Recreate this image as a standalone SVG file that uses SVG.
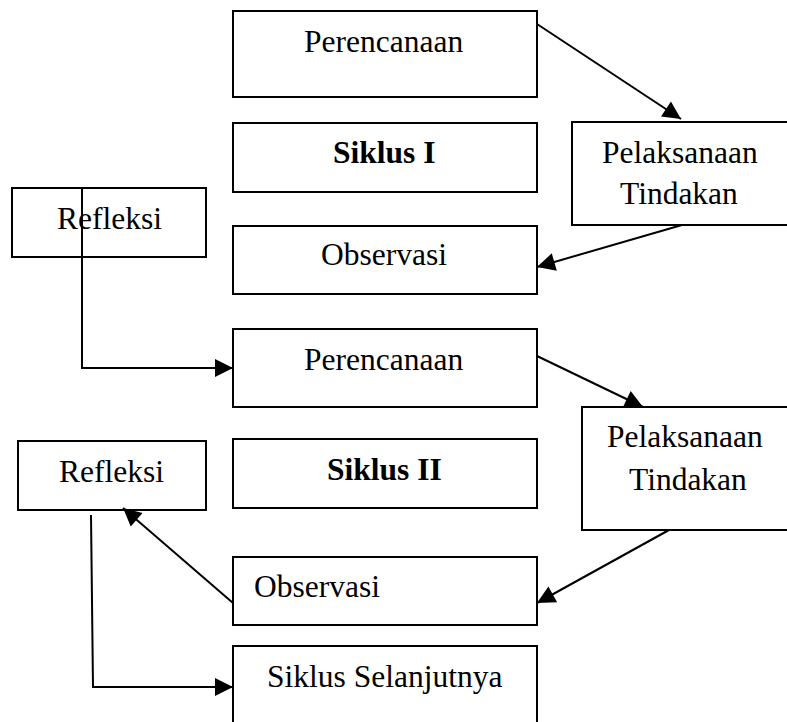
<svg xmlns="http://www.w3.org/2000/svg" width="787" height="722" viewBox="0 0 787 722">
<style>
.box{fill:#fff;stroke:#000;stroke-width:2}
.t{font-family:"Liberation Serif","Times New Roman",serif;font-size:31.5px;fill:#000}
.b{font-weight:bold}
.c{fill:none;stroke:#000;stroke-width:2}
</style>
<defs>
<marker id="ah" markerUnits="userSpaceOnUse" markerWidth="19" markerHeight="18" refX="18" refY="9" orient="auto" overflow="visible">
<path d="M0,0 L18,9 L0,18 z" fill="#000"/>
</marker>
</defs>
<rect width="787" height="722" fill="#fff"/>
<g id="perencanaan1"><rect class="box" x="233" y="11" width="304" height="86"/><text class="t" x="304" y="52">Perencanaan</text></g>
<g id="siklus1"><rect class="box" x="233" y="123" width="304" height="69"/><text class="t b" x="333" y="163">Siklus I</text></g>
<g id="pelaksanaan1"><rect class="box" x="572" y="122" width="222" height="103"/><text class="t" x="602" y="163">Pelaksanaan</text><text class="t" x="620" y="204">Tindakan</text></g>
<g id="refleksi1"><rect class="box" x="12" y="188" width="194" height="69"/><text class="t" x="57" y="229">Refleksi</text></g>
<g id="observasi1"><rect class="box" x="233" y="226" width="304" height="68"/><text class="t" x="321" y="265">Observasi</text></g>
<g id="perencanaan2"><rect class="box" x="233" y="329" width="304" height="78"/><text class="t" x="304" y="370">Perencanaan</text></g>
<g id="pelaksanaan2"><rect class="box" x="582" y="407" width="212" height="123"/><text class="t" x="607" y="447">Pelaksanaan</text><text class="t" x="629" y="490">Tindakan</text></g>
<g id="refleksi2"><rect class="box" x="18" y="441" width="188" height="69"/><text class="t" x="59" y="482">Refleksi</text></g>
<g id="siklus2"><rect class="box" x="233" y="439" width="304" height="69"/><text class="t b" x="327" y="480">Siklus II</text></g>
<g id="observasi2"><rect class="box" x="233" y="557" width="304" height="68"/><text class="t" x="254" y="597">Observasi</text></g>
<g id="siklusSelanjutnya"><rect class="box" x="233" y="646" width="304" height="84"/><text class="t" x="267" y="687">Siklus Selanjutnya</text></g>
<g id="connectors">
<line class="c" x1="537" y1="24" x2="681" y2="119" marker-end="url(#ah)"/>
<line class="c" x1="682" y1="225" x2="537" y2="267" marker-end="url(#ah)"/>
<polyline class="c" points="82,187 82,368 233,368" marker-end="url(#ah)"/>
<line class="c" x1="537" y1="356" x2="643" y2="407" marker-end="url(#ah)"/>
<line class="c" x1="669" y1="530" x2="537" y2="603" marker-end="url(#ah)"/>
<line class="c" x1="233" y1="603" x2="123" y2="508" marker-end="url(#ah)"/>
<polyline class="c" points="91,515 93,687 233,687" marker-end="url(#ah)"/>
</g>
</svg>
